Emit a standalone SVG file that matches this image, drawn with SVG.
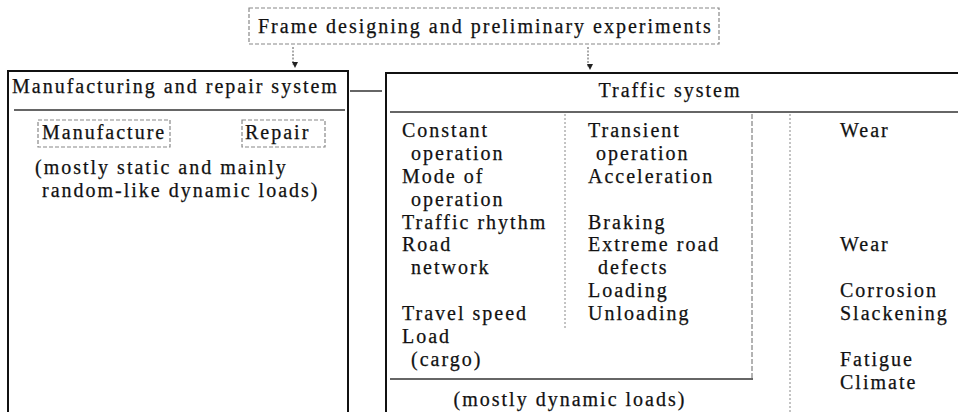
<svg xmlns="http://www.w3.org/2000/svg" width="958" height="412" viewBox="0 0 958 412" font-family="'Liberation Serif', 'DejaVu Serif', serif">
  <style>
    text { font-family: "Liberation Serif", "DejaVu Serif", serif; font-size: 20px; letter-spacing: 2px; fill: #111; stroke: #111; stroke-width: 0.25; }
    .box { fill: none; stroke: #111; stroke-width: 2; }
    .sep { fill: none; stroke: #333; stroke-width: 1.5; }
    .dot { fill: none; stroke: #888; stroke-width: 1; stroke-dasharray: 2 2; }
    .dash { fill: none; stroke: #666; stroke-width: 1; stroke-dasharray: 5 2; }
    .light { fill: none; stroke: #888; stroke-width: 1.2; stroke-dasharray: 4 2; }
    .arrow { fill: none; stroke: #555; stroke-width: 1; stroke-dasharray: 2 1.5; }
    .mid { text-anchor: middle; }
  </style>
  <defs>
    <marker id="head" viewBox="0 0 6 6" refX="3" refY="5" markerWidth="6" markerHeight="6" markerUnits="userSpaceOnUse" orient="auto-start-reverse">
      <path d="M0,0 L6,0 L3,6 z" fill="#222" transform="rotate(-90 3 3)"/>
    </marker>
  </defs>

  <rect width="958" height="412" fill="#fff"/>

  <!-- top node -->
  <g id="frame-design">
    <rect class="light" x="249" y="8" width="470" height="36"/>
    <text x="258" y="33">Frame designing and preliminary experiments</text>
  </g>

  <!-- manufacturing and repair -->
  <g id="manufacturing-repair">
    <path class="box" d="M8,414 V71 H348 V414"/>
    <line class="sep" x1="14" y1="110" x2="345" y2="110"/>
    <text x="12" y="93">Manufacturing and repair system</text>
    <rect class="light" x="38" y="120" width="132" height="27"/>
    <text x="42" y="139">Manufacture</text>
    <rect class="light" x="242" y="120" width="83" height="27"/>
    <text x="245" y="139">Repair</text>
    <text x="35" y="174">(mostly static and mainly</text>
    <text x="42" y="197">random-like dynamic loads)</text>
  </g>

  <!-- traffic system -->
  <g id="traffic-system">
    <path class="box" d="M960,73 H386 V414"/>
    <line class="sep" x1="390" y1="112" x2="958" y2="112"/>
    <text class="mid" x="670" y="97">Traffic system</text>

    <line class="dot" x1="565" y1="114" x2="565" y2="330"/>
    <line class="dash" x1="752" y1="114" x2="752" y2="378"/>
    <line class="dot" x1="790" y1="114" x2="790" y2="412"/>
    <line class="sep" x1="390" y1="379" x2="753" y2="379"/>

    <text x="402" y="137">Constant</text>
    <text x="411" y="160">operation</text>
    <text x="402" y="183">Mode of</text>
    <text x="411" y="206">operation</text>
    <text x="402" y="229">Traffic rhythm</text>
    <text x="402" y="251">Road</text>
    <text x="411" y="274">network</text>
    <text x="402" y="320">Travel speed</text>
    <text x="402" y="343">Load</text>
    <text x="411" y="366">(cargo)</text>

    <text x="588" y="137">Transient</text>
    <text x="596" y="160">operation</text>
    <text x="588" y="183">Acceleration</text>
    <text x="588" y="229">Braking</text>
    <text x="588" y="251">Extreme road</text>
    <text x="598" y="274">defects</text>
    <text x="588" y="297">Loading</text>
    <text x="588" y="320">Unloading</text>

    <text x="840" y="137">Wear</text>
    <text x="840" y="251">Wear</text>
    <text x="840" y="297">Corrosion</text>
    <text x="840" y="320">Slackening</text>
    <text x="840" y="366">Fatigue</text>
    <text x="840" y="389">Climate</text>

    <text class="mid" x="570" y="406">(mostly dynamic loads)</text>
  </g>

  <!-- connectors -->
  <g id="connectors">
    <line class="arrow" x1="293" y1="47" x2="293" y2="65" marker-end="url(#head)"/>
    <line class="arrow" x1="588" y1="47" x2="588" y2="67" marker-end="url(#head)"/>
    <line class="sep" x1="350" y1="91" x2="382" y2="91"/>
  </g>
</svg>
